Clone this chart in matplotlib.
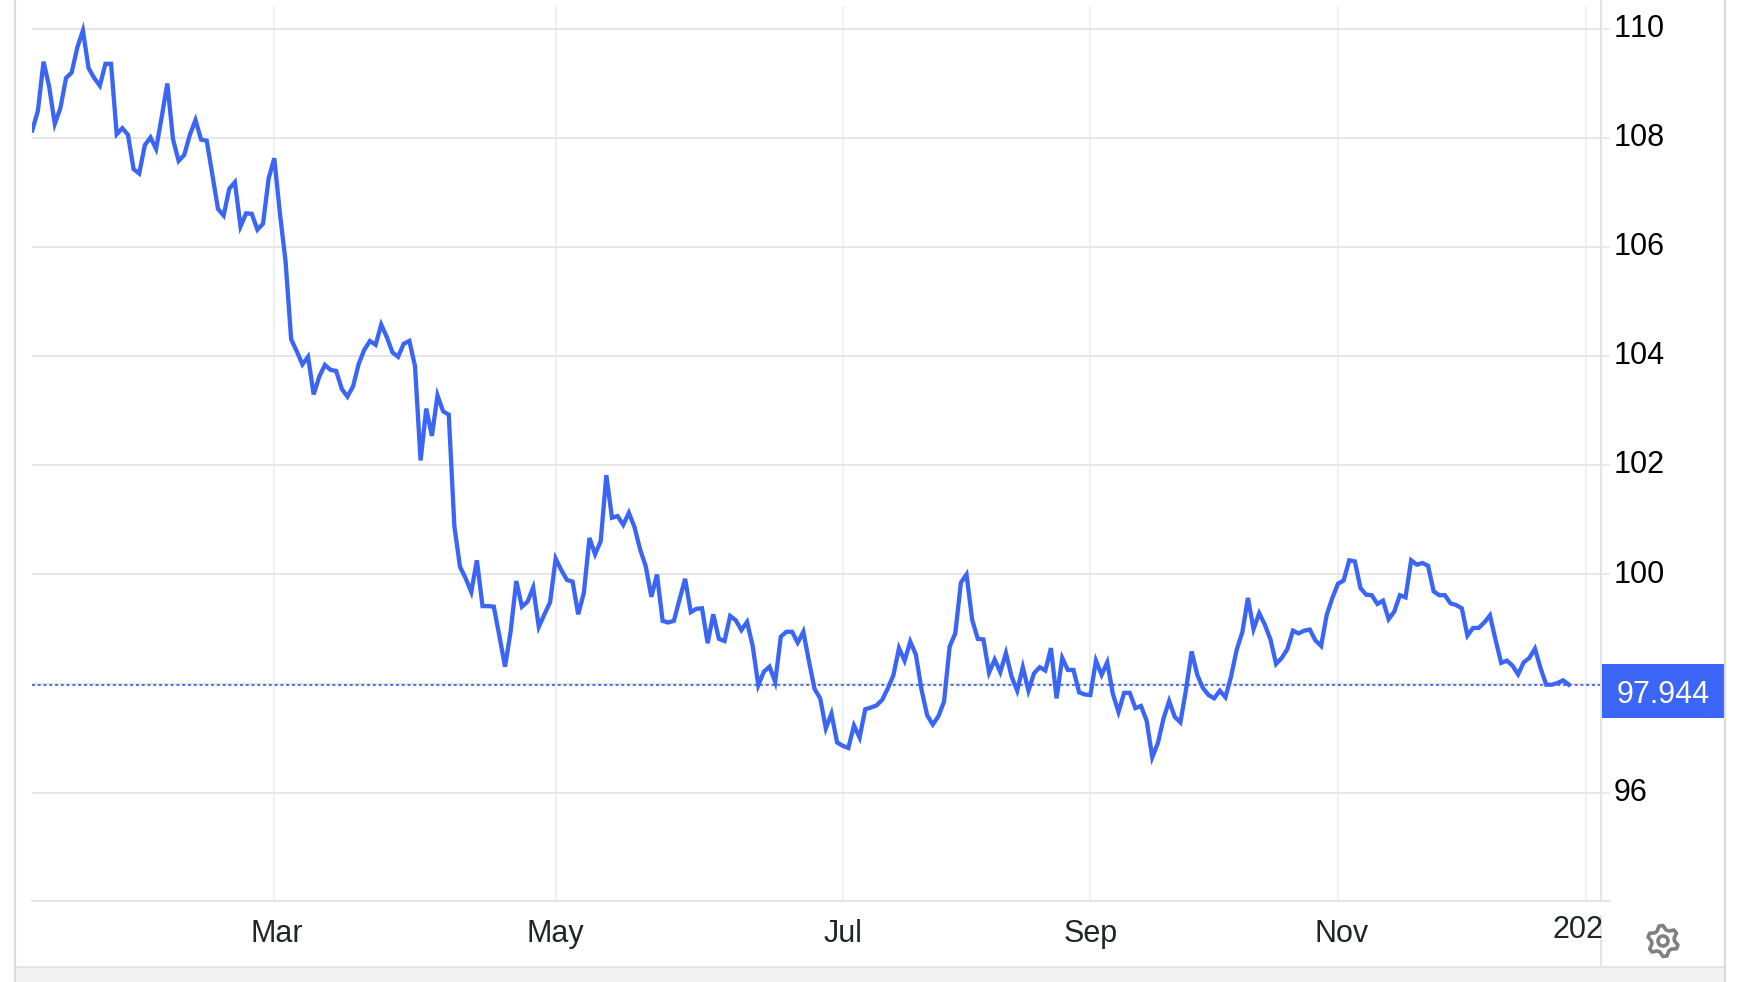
import numpy as np
import matplotlib
matplotlib.use("Agg")
import matplotlib.pyplot as plt
from matplotlib.lines import Line2D
from matplotlib.patches import Rectangle, PathPatch
from matplotlib.path import Path
from matplotlib.transforms import Affine2D, ScaledTranslation

plt.rcParams["font.family"] = ["Liberation Sans", "DejaVu Sans"]
plt.rcParams["text.kerning_factor"] = 6

W, H = 1742, 982
BLUE = "#3b66f5"

# index readings, one value per trading day
jan_mar = [108.14, 108.50, 109.40, 108.94, 108.26, 108.55, 109.10, 109.20, 109.66, 109.97,
           109.28, 109.10, 108.96, 109.36, 109.36, 108.07, 108.18, 108.06, 107.43, 107.35,
           107.87, 108.01, 107.80, 108.39, 109.00, 107.98, 107.58, 107.69, 108.06, 108.33,
           107.97, 107.95, 107.32, 106.70, 106.58, 107.07, 107.19, 106.38, 106.62, 106.61,
           106.32, 106.43, 107.26, 107.63]
mar_may = [106.62, 105.74, 104.31, 104.09, 103.85, 103.99, 103.30, 103.63, 103.84, 103.75,
           103.73, 103.40, 103.26, 103.45, 103.86, 104.12, 104.28, 104.21, 104.58, 104.35,
           104.07, 103.99, 104.23, 104.28, 103.82, 102.09, 103.04, 102.54, 103.28, 102.99,
           102.93, 100.88, 100.14, 99.93, 99.68, 100.26, 99.42, 99.42, 99.41, 98.87,
           98.31, 98.96, 99.88, 99.41, 99.50, 99.76, 99.04, 99.27, 99.49]
may_jul = [100.29, 100.08, 99.90, 99.87, 99.27, 99.66, 100.67, 100.37, 100.61, 101.82,
           101.04, 101.07, 100.91, 101.13, 100.87, 100.46, 100.15, 99.59, 100.00, 99.15,
           99.12, 99.15, 99.54, 99.92, 99.31, 99.37, 99.38, 98.74, 99.27, 98.82,
           98.78, 99.24, 99.16, 98.98, 99.13, 98.69, 97.97, 98.22, 98.31, 98.03,
           98.86, 98.95, 98.95, 98.75, 98.95, 98.41, 97.90, 97.73, 97.18, 97.45,
           96.92]
jul_sep = [96.86, 96.82, 97.23, 97.01, 97.53, 97.56, 97.60, 97.70, 97.91, 98.15,
           98.65, 98.42, 98.77, 98.53, 97.89, 97.42, 97.25, 97.40, 97.67, 98.68,
           98.92, 99.85, 100.00, 99.17, 98.82, 98.81, 98.20, 98.44, 98.21, 98.56,
           98.13, 97.87, 98.30, 97.87, 98.19, 98.30, 98.24, 98.65, 97.73, 98.47,
           98.25, 98.25, 97.84, 97.80]
sep_nov = [97.79, 98.42, 98.16, 98.39, 97.81, 97.48, 97.83, 97.83, 97.55, 97.59,
           97.32, 96.65, 96.91, 97.36, 97.68, 97.39, 97.29, 97.89, 98.59, 98.16,
           97.92, 97.79, 97.73, 97.87, 97.75, 98.13, 98.62, 98.94, 99.57, 99.00,
           99.29, 99.08, 98.81, 98.36, 98.47, 98.63, 98.97, 98.92, 98.97, 98.99,
           98.79, 98.69, 99.26, 99.57]
nov_dec = [99.83, 99.89, 100.26, 100.24, 99.75, 99.63, 99.62, 99.46, 99.52, 99.18,
           99.32, 99.62, 99.58, 100.26, 100.18, 100.21, 100.16, 99.69, 99.62, 99.62,
           99.47, 99.44, 99.38, 98.88, 99.02, 99.02, 99.12, 99.25, 98.80, 98.38,
           98.42, 98.33, 98.17, 98.39, 98.47, 98.64, 98.28, 97.98, 97.98, 98.01,
           98.06, 97.98]

values = jan_mar + mar_may + may_jul + jul_sep + sep_nov + nov_dec
price_line = 97.98
price_label = "97.944"

month_pos = [43, 93, 144, 188, 232]
month_labels = ["Mar", "May", "Jul", "Sep", "Nov"]
year_pos = 276
year_label = "202"
y_ticks = [96, 98, 100, 102, 104, 106, 108, 110]
y_labels = ["96", "", "100", "102", "104", "106", "108", "110"]


def fx(px):
    return px / W


def fy(px):
    return 1 - px / H


fig = plt.figure(figsize=(W / 100, H / 100), dpi=100, facecolor="white")
ax = fig.add_axes([fx(32), fy(901), fx(1598 - 32), fy(6) - fy(901)])
ax.set_xlim(-0.05, 278.2)
ax.set_ylim(94.015, 110.42)
for s in ax.spines.values():
    s.set_visible(False)

# grid, vertical is fainter than horizontal
ax.set_xticks(month_pos + [year_pos])
ax.set_xticklabels(month_labels + [""], fontsize=22, color="#212529")
ax.set_yticks(y_ticks)
ax.set_yticklabels(y_labels, fontsize=22, color="black")
ax.yaxis.tick_right()
ax.tick_params(axis="x", length=0, pad=13)
ax.tick_params(axis="y", length=8.6, width=1.1, color="#e6e6e6", pad=3)
ax.set_axisbelow(True)
ax.grid(axis="x", color="#eef1f4", lw=1.4)
ax.grid(axis="y", color="#e6e6e6", lw=1.4)
for lab in ax.get_yticklabels():
    lab.set_transform(lab.get_transform() + ScaledTranslation(0, 2.5 / 72, fig.dpi_scale_trans))
# Mar and Nov labels sit a little right of their grid lines
for i, dx in [(0, 2), (4, 2.5)]:
    lab = ax.get_xticklabels()[i]
    lab.set_transform(lab.get_transform() + ScaledTranslation(dx / 72, 0, fig.dpi_scale_trans))

ax.axhline(price_line, color=BLUE, lw=1.3, ls=(0, (1.6, 1.6)), zorder=3, clip_on=False, xmax=1.002)
ax.plot(range(len(values)), values, color=BLUE, lw=3.1, solid_joinstyle="miter", zorder=4)

# frame around the chart
line_c = "#e4e4e4"
fig.add_artist(Line2D([fx(32), fx(1610)], [fy(901), fy(901)], color=line_c, lw=1.4))
fig.add_artist(Line2D([fx(1601), fx(1601)], [fy(0), fy(901)], color=line_c, lw=1.4))
fig.add_artist(Line2D([fx(1601), fx(1601)], [fy(916), fy(967)], color=line_c, lw=1.4))
fig.add_artist(Rectangle((fx(15), 0), fx(1725 - 15), fy(967), transform=fig.transFigure,
                         facecolor="#f3f3f3", edgecolor="none"))
fig.add_artist(Line2D([fx(15), fx(1725)], [fy(967), fy(967)], color=line_c, lw=1.4))
fig.add_artist(Line2D([fx(15), fx(15)], [0, 1], color="#dcdcdc", lw=1.6))
fig.add_artist(Line2D([fx(1725), fx(1725)], [0, 1], color="#dcdcdc", lw=1.6))

# last value box
fig.add_artist(Rectangle((fx(1602), fy(718)), fx(122), fy(664) - fy(718), transform=fig.transFigure,
                         facecolor=BLUE, edgecolor="none"))
fig.text(fx(1663), fy(695), price_label, color="white", fontsize=22, ha="center", va="center")

# year label is cut by the axis in the original
fig.text(fx(1552), fy(930), year_label, color="#212529", fontsize=22, ha="left", va="center")

# settings gear
cx, cy, teeth = 1663, 941, 6
angles = np.linspace(0, 2 * np.pi, teeth * 4 + 1)[:-1] - np.pi / 2 - np.pi / 12
radii = [15.5, 15.5, 11.5, 11.5] * teeth
verts = [(cx + r * np.cos(a), cy + r * np.sin(a)) for r, a in zip(radii, angles)]
verts = [(fx(x), fy(y)) for x, y in verts]
gear = Path(verts + [verts[0]], closed=True)
fig.add_artist(PathPatch(gear, transform=fig.transFigure, facecolor="none", edgecolor="#808080",
                         lw=2.6, joinstyle="round"))
hole = Path.unit_circle().transformed(Affine2D().scale(5).translate(cx, H - cy))
fig.add_artist(PathPatch(hole, transform=None, facecolor="none", edgecolor="#808080", lw=2.6))

fig.savefig("out.png", dpi=100)
